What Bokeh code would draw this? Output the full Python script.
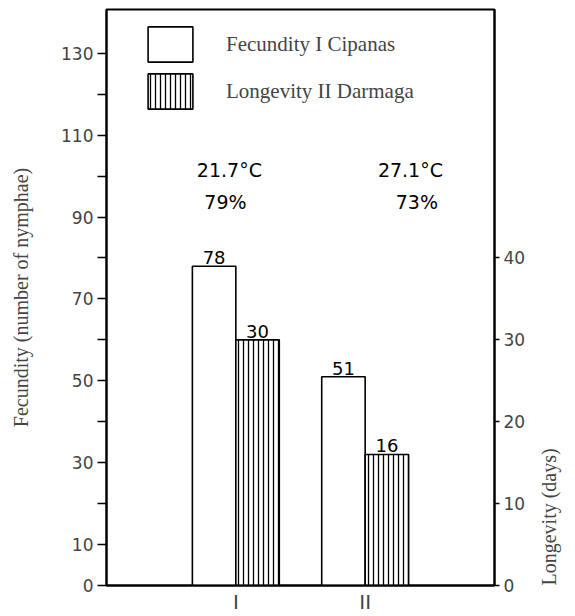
import math
from bokeh.plotting import figure
from bokeh.models import (Range1d, LinearAxis, FixedTicker, ColumnDataSource,
                          FactorRange, Legend, LegendItem)
from bokeh.transform import dodge
from bokeh.core.properties import value
from bokeh.embed import file_html
from bokeh.resources import INLINE

# ---------------- data ----------------
sites = ["I", "II"]
fecundity = [78, 51]          # number of nymphae (left axis)
longevity = [30, 16]          # days (right axis)
temp_notes = ["21.7\u00b0C", "27.1\u00b0C"]
rh_notes = ["79%", "73%"]
left_ticks = [0, 10, 20, 30, 40, 50, 60, 70, 80, 90, 100, 110, 120, 130]
left_tick_labels = ["0", "10", "", "30", "", "50", "", "70", "", "90", "", "110", "", "130"]
right_ticks = [0, 10, 20, 30, 40]
series_names = ["Fecundity I Cipanas", "Longevity II Darmaga"]

# ---------------- layout / style ----------------
BAR_W = 0.336
DODGE = 0.168
TEMP_DX = [-0.05, 0.35]
RH_DX = [-0.08, 0.40]
NOTE_Y_TEMP = 101.5
NOTE_Y_RH = 93.7
SANS = value("DejaVu Sans")
SERIF = "Liberation Serif"

src = ColumnDataSource(dict(
    site=sites,
    fec=fecundity,
    lon=longevity,
    fec_txt=[str(v) for v in fecundity],
    lon_txt=[str(v) for v in longevity],
))

p = figure(
    width=575, height=616,
    x_range=FactorRange(factors=sites, range_padding=0.5, range_padding_units="absolute"),
    y_range=Range1d(0, 140.7),
    output_backend="svg", toolbar_location=None,
    min_border_left=106, min_border_right=81, min_border_top=9, min_border_bottom=29,
)
p.extra_y_ranges = {"right": Range1d(0, 70.35)}
p.grid.visible = False
p.outline_line_color = "black"
p.outline_line_width = 2
p.background_fill_color = "white"
p.border_fill_color = "white"

# bars
fec_r = p.vbar(x=dodge("site", -DODGE, range=p.x_range), top="fec", width=BAR_W, source=src,
               fill_color="white", line_color="black", line_width=1.6)
lon_r = p.vbar(x=dodge("site", DODGE, range=p.x_range), top="lon", width=BAR_W, source=src,
               y_range_name="right",
               fill_color="white", line_color="black", line_width=1.6,
               hatch_pattern="vertical_line", hatch_color="black", hatch_scale=5, hatch_weight=1.3)

# bar value labels
p.text(x=dodge("site", -DODGE, range=p.x_range), y="fec", text="fec_txt", source=src,
       text_font=SANS, text_font_size="18px", text_align="center", text_baseline="bottom",
       y_offset=-2, text_color="black")
p.text(x=dodge("site", DODGE, range=p.x_range), y="lon", text="lon_txt", source=src,
       y_range_name="right",
       text_font=SANS, text_font_size="18px", text_align="center", text_baseline="bottom",
       y_offset=-2, text_color="black")

# climate notes
for i, s in enumerate(sites):
    nsrc = ColumnDataSource(dict(site=[s], t=[temp_notes[i]], h=[rh_notes[i]],
                                 yt=[NOTE_Y_TEMP], yh=[NOTE_Y_RH]))
    p.text(x=dodge("site", TEMP_DX[i], range=p.x_range), y="yt", text="t", source=nsrc,
           text_font=SANS, text_font_size="19px", text_align="center", text_baseline="middle",
           text_color="black")
    p.text(x=dodge("site", RH_DX[i], range=p.x_range), y="yh", text="h", source=nsrc,
           text_font=SANS, text_font_size="19px", text_align="center", text_baseline="middle",
           text_color="black")

# left axis
ya = p.yaxis[0]
ya.ticker = FixedTicker(ticks=left_ticks)
ya.major_label_overrides = {t: l for t, l in zip(left_ticks, left_tick_labels)}
ya.minor_tick_line_color = None
ya.major_tick_in = 0
ya.major_tick_out = 9
ya.major_tick_line_width = 1.5
ya.axis_line_width = 2
ya.major_label_text_font = "DejaVu Sans"
ya.major_label_text_font_size = "17px"
ya.major_label_standoff = 4
ya.axis_label = "Fecundity (number of nymphae)"
ya.axis_label_text_font = SERIF
ya.axis_label_text_font_style = "normal"
ya.axis_label_text_font_size = "20px"
ya.axis_label_standoff = 26

# right axis
ra = LinearAxis(y_range_name="right", ticker=FixedTicker(ticks=right_ticks))
ra.minor_tick_line_color = None
ra.major_tick_in = 0
ra.major_tick_out = 5
ra.major_tick_line_width = 1.5
ra.axis_line_width = 2
ra.major_label_text_font = "DejaVu Sans"
ra.major_label_text_font_size = "17px"
ra.major_label_standoff = 4
ra.axis_label = "Longevity (days)"
ra.axis_label_text_font = SERIF
ra.axis_label_text_font_style = "normal"
ra.axis_label_text_font_size = "20px"
ra.axis_label_standoff = 21
ra.axis_label_orientation = math.pi / 2
ra.axis_label_align = "start"
p.add_layout(ra, "right")

# bottom axis
xa = p.xaxis[0]
xa.major_tick_line_color = None
xa.major_tick_in = 0
xa.major_tick_out = 0
xa.minor_tick_line_color = None
xa.axis_line_width = 2
xa.major_label_text_font = "DejaVu Sans"
xa.major_label_text_font_size = "20px"
xa.major_label_standoff = 4

# legend
legend = Legend(items=[LegendItem(label=series_names[0], renderers=[fec_r]),
                       LegendItem(label=series_names[1], renderers=[lon_r])],
                location=(36, 472))
legend.glyph_width = 56
legend.glyph_height = 44
legend.spacing = 3
legend.padding = 0
legend.margin = 0
legend.label_standoff = 28
legend.label_text_font = SERIF
legend.label_text_font_size = "21px"
legend.border_line_color = None
legend.background_fill_alpha = 0
p.add_layout(legend)

open("out.html", "w").write(file_html(p, INLINE))
